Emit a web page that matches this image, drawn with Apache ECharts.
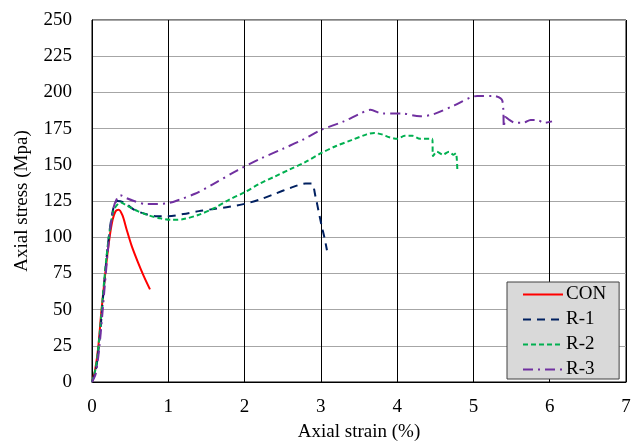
<!DOCTYPE html>
<html>
<head>
<meta charset="utf-8">
<script src="https://cdn.jsdelivr.net/npm/echarts@6/dist/echarts.min.js"></script>
<style>
  html, body { margin: 0; padding: 0; background: #fff; }
  #chart { width: 638px; height: 447px; }
</style>
</head>
<body>
<div id="chart"></div>
<script>
// values (strain %, stress MPa)
var conStrain = [0, 0.04, 0.08, 0.12, 0.17, 0.22, 0.27, 0.31, 0.35, 0.40, 0.45, 0.52, 0.60, 0.68, 0.76]
var conStress = [0, 8, 23, 47, 73, 96, 112, 118, 119, 115, 106, 94, 83, 73, 64]

var r1Strain = [0, 0.05, 0.1, 0.16, 0.22, 0.28, 0.33, 0.42, 0.55, 0.7, 0.85, 1.0, 1.2, 1.4, 1.6, 1.8, 2.0, 2.2, 2.4, 2.6, 2.8, 2.88, 2.93, 2.97, 3.01, 3.05, 3.08]
var r1Stress = [0, 8, 30, 68, 100, 120, 125, 124, 119, 116, 114.5, 114.5, 116, 118, 119.5, 121, 123, 126, 130, 134, 137, 137, 128, 118, 108, 99, 91]

var r2Strain = [0, 0.05, 0.1, 0.16, 0.22, 0.28, 0.34, 0.38, 0.45, 0.6, 0.75, 0.9, 1.05, 1.2, 1.4, 1.6, 1.8, 2.0, 2.2, 2.4, 2.6, 2.8, 3.0, 3.2, 3.4, 3.6, 3.7, 3.8, 3.9, 4.0, 4.1, 4.2, 4.3, 4.46, 4.47, 4.52, 4.6, 4.68, 4.74, 4.77, 4.79]
var r2Stress = [0, 10, 33, 70, 100, 118, 123, 124, 122, 118, 115, 113, 112, 112.5, 115.5, 120, 126, 131, 137, 142, 147, 152, 158, 163, 167, 171, 172, 171, 169, 168, 170, 170, 168, 168, 156, 159, 157, 159, 157, 158, 145]

var r3Strain = [0, 0.05, 0.1, 0.16, 0.22, 0.28, 0.33, 0.37, 0.45, 0.55, 0.7, 0.85, 1.0, 1.15, 1.35, 1.6, 1.9, 2.2, 2.5, 2.75, 3.0, 3.3, 3.5, 3.65, 3.8, 4.05, 4.3, 4.48, 4.75, 5.05, 5.27, 5.38, 5.40, 5.42, 5.47, 5.55, 5.65, 5.75, 5.83, 5.93, 6.03]
var r3Stress = [0, 6, 26, 62, 97, 120, 127, 129, 127, 125, 123, 123, 123.5, 126, 130, 137, 146, 154, 161, 167, 174, 180, 185, 188, 185.5, 185.5, 183.5, 185, 191, 197.5, 197.5, 194, 176, 183, 181, 179, 179, 181, 181, 179, 180]

var seriesNames = ['CON', 'R-1', 'R-2', 'R-3']
var xTicks = [0, 1, 2, 3, 4, 5, 6, 7]
var yTicks = [0, 25, 50, 75, 100, 125, 150, 175, 200, 225, 250]

var font = 'Liberation Serif, Times New Roman, serif'

function pairs(xs, ys) {
  return xs.map(function (x, i) { return [x, ys[i]] })
}

function lineSeries(name, xs, ys, color, dash) {
  return {
    name: name,
    type: 'line',
    symbol: 'none',
    smooth: 0.3,
    data: pairs(xs, ys),
    lineStyle: { color: color, width: 2, type: dash },
    itemStyle: { color: color },
    animation: false
  }
}

var chart = echarts.init(document.getElementById('chart'))
chart.setOption({
  backgroundColor: '#fff',
  grid: {
    left: 92,
    right: 12,
    top: 20,
    bottom: 65,
    containLabel: false,
    outerBoundsMode: 'none',
    show: true,
    borderColor: '#000',
    borderWidth: 1
  },
  xAxis: {
    type: 'value',
    min: xTicks[0],
    max: xTicks[xTicks.length - 1],
    interval: 1,
    name: 'Axial strain (%)',
    nameLocation: 'middle',
    nameGap: 41,
    nameTextStyle: { color: '#000', fontSize: 19, fontFamily: font },
    axisLine: { lineStyle: { color: '#000', width: 1 } },
    axisTick: { show: false },
    axisLabel: { color: '#000', fontSize: 19, fontFamily: font, margin: 16 },
    splitLine: { show: true, lineStyle: { color: '#000', width: 1 } }
  },
  yAxis: {
    type: 'value',
    min: yTicks[0],
    max: yTicks[yTicks.length - 1],
    interval: 25,
    name: 'Axial stress (Mpa)',
    nameLocation: 'middle',
    nameGap: 60,
    nameTextStyle: { color: '#000', fontSize: 19, fontFamily: font },
    axisLine: { show: true, lineStyle: { color: '#000', width: 1 } },
    axisTick: { show: false },
    axisLabel: { color: '#000', fontSize: 19, fontFamily: font, margin: 20 },
    splitLine: { show: true, lineStyle: { color: '#a6a6a6', width: 1 } }
  },
  legend: {
    data: seriesNames,
    orient: 'vertical',
    left: 507,
    top: 282,
    padding: [3, 13, 0, 15],
    itemWidth: 40,
    itemHeight: 14,
    itemGap: 6,
    itemStyle: { opacity: 0 },
    backgroundColor: '#d9d9d9',
    borderColor: '#404040',
    borderWidth: 1,
    textStyle: { color: '#000', fontSize: 19, lineHeight: 18, fontFamily: font, padding: [0, 0, 0, -2] }
  },
  series: [
    lineSeries(seriesNames[0], conStrain, conStress, '#ff0000', 'solid'),
    lineSeries(seriesNames[1], r1Strain, r1Stress, '#002060', [8, 6]),
    lineSeries(seriesNames[2], r2Strain, r2Stress, '#00b050', [5, 3]),
    lineSeries(seriesNames[3], r3Strain, r3Stress, '#7030a0', [10, 5, 2, 5])
  ]
})
</script>
</body>
</html>
